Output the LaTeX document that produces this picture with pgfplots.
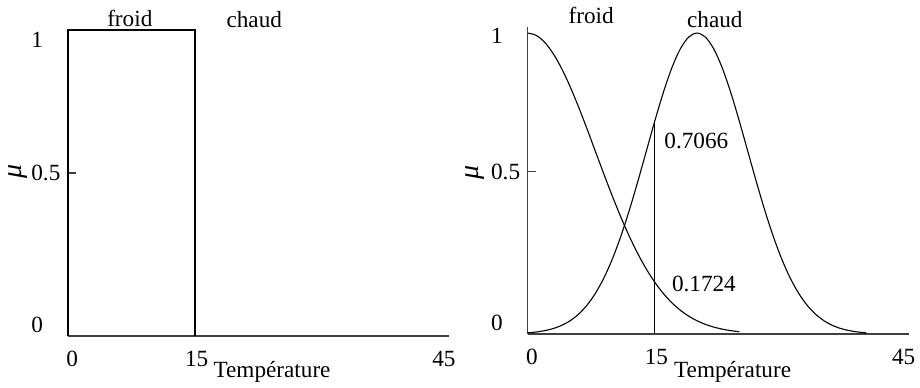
\documentclass[border=0pt]{standalone}
\usepackage{fontspec}
\setmainfont{Liberation Serif}
\usepackage{pgfplots}
\pgfplotsset{compat=1.18}

% Gaussian membership functions sampled at integer temperatures
% froid: centre 0, sigma 8 ; chaud: centre 20, sigma 6
\pgfplotsset{
  fuzzy/.style={
    scale only axis,
    width=190.5pt,
    xmin=0, xmax=45,
    ymin=0,
    axis lines=left,
    x axis line style={-, draw=black!75, line width=0.6pt},
    y axis line style={-, draw=black!75, line width=0.6pt},
    clip=false,
    tick align=inside,
    major tick length=4pt,
    ytick style={draw=black!75, line width=0.6pt},
    xtick style={draw=none},
    /pgf/number format/assume math mode=true,
    xtick={0.5,15.2,44.4},
    xticklabels={0,15,45},
    xticklabel style={anchor=north, inner sep=0pt, yshift=-7.5pt},
    yticklabel style={anchor=west, inner sep=0pt, xshift=-18.5pt},
    extra y tick style={major tick length=0pt},
    extra y tick labels={0,1},
  },
}

\begin{document}
\fontsize{11.6}{14}\selectfont
\begin{tikzpicture}
\useasboundingbox (0,0) rectangle (460pt,193.5pt);

% crisp sets
\begin{axis}[fuzzy,
  at={(34pt,25.5pt)}, anchor=south west,
  height=153pt, ymax=1,
  ytick={0.533}, yticklabels={0.5},
  extra y ticks={0.036,0.967},
]
\addplot[black, line width=0.6pt] coordinates {(0,0) (0,1) (15,1) (15,0)};
\node at (axis cs:7.3,1.039) {froid};
\node at (axis cs:22.0,1.033) {chaud};
\node at (axis cs:24.1,-0.118) {Température};
\node[rotate=90] at (axis cs:-5.9,0.539) {\fontsize{14}{16}\selectfont\itshape μ};
\end{axis}

% fuzzy sets
\begin{axis}[fuzzy,
  at={(263.85pt,26.5pt)}, anchor=south west,
  height=153.5pt, ymax=1.02,
  ytick={0.539}, yticklabels={0.5},
  extra y ticks={0.0365,0.99},
]
\addplot[black, line width=0.55pt, smooth] coordinates {
  (0,1) (1,0.99222) (2,0.96923) (3,0.93210) (4,0.88250) (5,0.82258)
  (6,0.75484) (7,0.68196) (8,0.60653) (9,0.53110) (10,0.45783)
  (11,0.38857) (12,0.32465) (13,0.26705) (14,0.21627) (15,0.17242)
  (16,0.13534) (17,0.10458) (18,0.07956) (19,0.05958) (20,0.04394)
  (21,0.03190) (22,0.02280) (23,0.01604) (24,0.01111) (25,0.00758)
};
\addplot[black, line width=0.55pt, smooth] coordinates {
  (0,0.00386) (1,0.00664) (2,0.01111) (3,0.01806) (4,0.02856)
  (5,0.04394) (6,0.06573) (7,0.09563) (8,0.13534) (9,0.18628)
  (10,0.24935) (11,0.32465) (12,0.41111) (13,0.50638) (14,0.60653)
  (15,0.70664) (16,0.80074) (17,0.88250) (18,0.94596) (19,0.98621)
  (20,1) (21,0.98621) (22,0.94596) (23,0.88250) (24,0.80074)
  (25,0.70664) (26,0.60653) (27,0.50638) (28,0.41111) (29,0.32465)
  (30,0.24935) (31,0.18628) (32,0.13534) (33,0.09563) (34,0.06573)
  (35,0.04394) (36,0.02856) (37,0.01806) (38,0.01111) (39,0.00664)
  (40,0.00386)
};
% degree of membership at 15
\addplot[black, line width=0.6pt] coordinates {(15,0) (15,0.7066)};
\node[anchor=west, inner sep=0pt] at (axis cs:16.1,0.641) {0.7066};
\node[anchor=west, inner sep=0pt] at (axis cs:17.0,0.166) {0.1724};
\node at (axis cs:7.5,1.06) {froid};
\node at (axis cs:22.1,1.045) {chaud};
\node at (axis cs:24.2,-0.126) {Température};
\node[rotate=90] at (axis cs:-6.2,0.538) {\fontsize{14}{16}\selectfont\itshape μ};
\end{axis}
\end{tikzpicture}
\end{document}
